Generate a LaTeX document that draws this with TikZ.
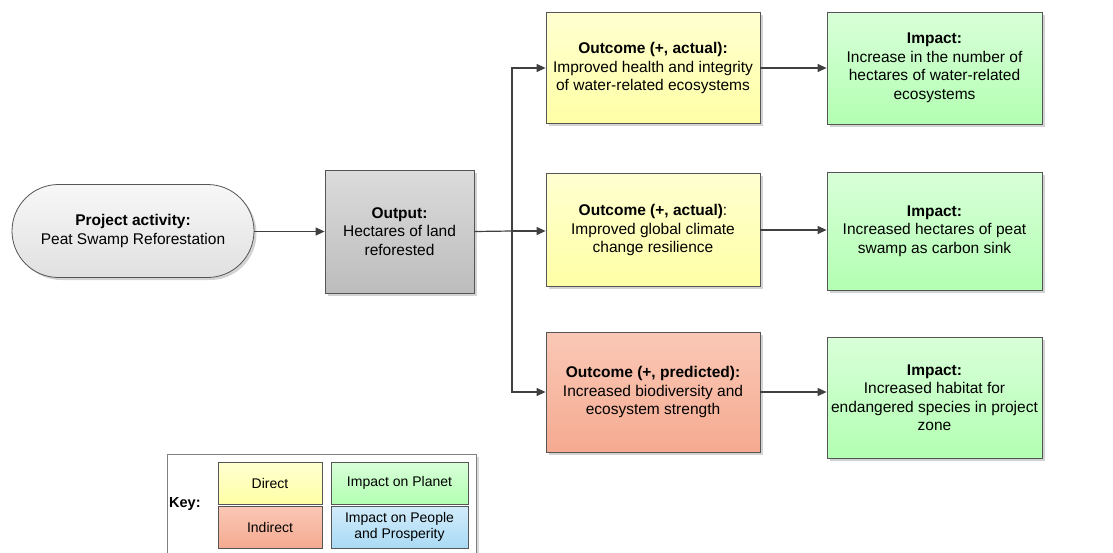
\documentclass[tikz,border=0pt]{standalone}
\usepackage{fontspec}
\setmainfont{Liberation Sans}
\usetikzlibrary{shapes.misc,arrows.meta,shadows,calc}
\definecolor{lineC}{HTML}{404040}
\definecolor{bordC}{HTML}{555555}
\begin{document}
\begin{tikzpicture}[x=1pt,y=-1pt,
  base/.style={draw=bordC,line width=0.8pt,align=center,inner sep=2pt,
    font=\fontsize{15.5}{18.5}\selectfont,text=black,
    drop shadow={shadow xshift=2.5pt,shadow yshift=-2.5pt,opacity=0.35}},
  yel/.style={base,top color=white!40!yellow!30,bottom color=yellow!35!white},
  grn/.style={base,top color=green!15!white,bottom color=green!30!white},
  sal/.style={base,top color={rgb,255:red,250;green,200;blue,182},bottom color={rgb,255:red,245;green,170;blue,145}},
  gry/.style={base,top color=black!14,bottom color=black!26},
  pillS/.style={base,rounded rectangle,top color=black!3,bottom color=black!12},
  keycell/.style={draw=bordC,line width=0.8pt,align=center,inner sep=1pt,font=\fontsize{14}{16.5}\selectfont},
  conn/.style={draw=lineC,line width=1.2pt,-{Triangle[length=9pt,width=8pt]}},
  plain/.style={draw=lineC,line width=1.2pt}]
\useasboundingbox (0,0) rectangle (1113,552);

\node[pillS,minimum width=246pt,minimum height=93pt] (pill) at (133,231)
  {\textbf{Project activity:}\\Peat Swamp Reforestation};
\node[gry,minimum width=149pt,minimum height=123pt] (out) at (399.5,231.5)
  {\textbf{Output:}\\Hectares of land\\reforested};

\node[yel,minimum width=214pt,minimum height=111pt] (o1) at (653,68)
  {\textbf{Outcome (+, actual):}\\Improved health and integrity\\of water-related ecosystems};
\node[yel,minimum width=214pt,minimum height=113pt] (o2) at (653,230)
  {\textbf{Outcome (+, actual)}:\\Improved global climate\\change resilience};
\node[sal,minimum width=214pt,minimum height=120pt] (o3) at (653,392)
  {\textbf{Outcome (+, predicted):}\\Increased biodiversity and\\ecosystem strength};

\node[grn,minimum width=215pt,minimum height=112pt] (i1) at (934.5,68)
  {\textbf{Impact:}\\Increase in the number of\\hectares of water-related\\ecosystems};
\node[grn,minimum width=215pt,minimum height=118pt] (i2) at (934.5,231)
  {\textbf{Impact:}\\Increased hectares of peat\\swamp as carbon sink};
\node[grn,minimum width=215pt,minimum height=121pt] (i3) at (934.5,397.5)
  {\textbf{Impact:}\\Increased habitat for\\endangered species in project\\zone};

\coordinate (br) at (512,231);
\draw[conn] (pill.east |- out.west) -- (out.west);
\draw[plain] (out.east) -- (br);
\draw[conn] (br) |- (o1.west);
\draw[conn] (br) -- (br -| o2.west);
\draw[conn] (br) |- (o3.west);
\draw[conn] (o1.east) -- (o1.east -| i1.west);
\draw[conn] (o2.east) -- (o2.east -| i2.west);
\draw[conn] (o3.east) -- (o3.east -| i3.west);

% key
\node[draw=black!50,fill=white,line width=0.8pt,minimum width=309pt,minimum height=110pt,
  drop shadow={shadow xshift=2.5pt,shadow yshift=-2.5pt,opacity=0.3}] (keybox) at (321.5,509) {};
\node[font=\fontsize{14.5}{17}\selectfont\bfseries,anchor=west,inner sep=1pt] (keyl) at (168,504) {Key:};
\node[keycell,top color=white!40!yellow!30,bottom color=yellow!35!white,minimum width=104pt,minimum height=42pt] (kd) at (270,483) {Direct};
\node[keycell,top color={rgb,255:red,250;green,200;blue,182},bottom color={rgb,255:red,245;green,170;blue,145},minimum width=104pt,minimum height=42pt] (ki) at (270,527) {Indirect};
\node[keycell,top color=green!15!white,bottom color=green!30!white,minimum width=137pt,minimum height=42pt] (kp) at (399.5,483) {Impact on Planet};
\node[keycell,top color={rgb,255:red,210;green,236;blue,250},bottom color={rgb,255:red,170;green,218;blue,245},minimum width=137pt,minimum height=42pt] (kpp) at (399.5,527) {Impact on People\\and Prosperity};
\end{tikzpicture}
\end{document}
